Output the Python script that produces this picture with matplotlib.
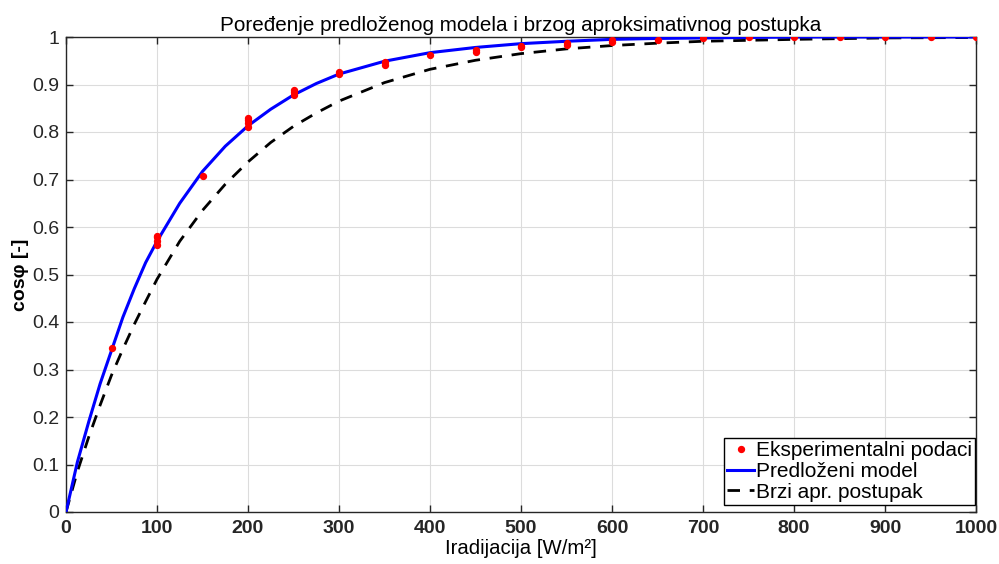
import matplotlib
matplotlib.use("Agg")
import matplotlib.pyplot as plt

plt.rcParams['font.family'] = ['Liberation Sans', 'DejaVu Sans']

# Experimental points
exp_x = [50, 100, 100, 100, 100, 150, 200, 200, 200, 200, 250, 250, 250,
         300, 300, 350, 350, 400, 450, 450, 500, 500, 550, 550, 600, 600,
         650, 700, 750, 800, 850, 900, 950, 1000]
exp_y = [0.345, 0.562, 0.570, 0.578, 0.582, 0.707, 0.810, 0.818, 0.825, 0.829,
         0.877, 0.884, 0.889, 0.922, 0.927, 0.942, 0.948, 0.963, 0.969, 0.973,
         0.978, 0.982, 0.983, 0.987, 0.989, 0.993, 0.993, 0.997, 0.999, 1.0,
         1.0, 1.0, 1.0, 1.0]

# Proposed model curve
model_x = [0, 12.5, 25, 37.5, 50, 62.5, 75, 87.5, 100, 125, 150, 175, 200, 225,
           250, 275, 300, 350, 400, 450, 500, 550, 600, 650, 700, 750, 800,
           900, 1000]
model_y = [0.0, 0.105, 0.19, 0.27, 0.34, 0.41, 0.47, 0.525, 0.57, 0.65, 0.717,
           0.77, 0.813, 0.848, 0.878, 0.902, 0.922, 0.949, 0.967, 0.978,
           0.986, 0.991, 0.995, 0.997, 0.998, 0.999, 1.0, 1.0, 1.0]

# Fast approximate procedure
approx_x = [0, 12.5, 25, 37.5, 50, 62.5, 75, 87.5, 100, 125, 150, 175, 200,
            225, 250, 275, 300, 350, 400, 450, 500, 550, 600, 650, 700, 800,
            900, 1000]
approx_y = [0.0, 0.085, 0.158, 0.225, 0.288, 0.343, 0.395, 0.443, 0.49, 0.57,
            0.635, 0.69, 0.737, 0.778, 0.812, 0.84, 0.865, 0.904, 0.932,
            0.951, 0.965, 0.975, 0.982, 0.987, 0.991, 0.995, 0.998, 0.999]

x_ticks = list(range(0, 1001, 100))
y_ticks = [0, 0.1, 0.2, 0.3, 0.4, 0.5, 0.6, 0.7, 0.8, 0.9, 1]
y_tick_labels = ['0', '0.1', '0.2', '0.3', '0.4', '0.5', '0.6', '0.7', '0.8', '0.9', '1']

fig = plt.figure(figsize=(9.99, 5.64), dpi=100)
ax = fig.add_axes([66/999, 52/564, (976-66)/999, (512-37)/564])

ax.plot(exp_x, exp_y, '.', color='red', markersize=8.5, label='Eksperimentalni podaci', zorder=4)
ax.plot(model_x, model_y, '-', color='blue', lw=2.2, label='Predloženi model', zorder=3)
ax.plot(approx_x, approx_y, '--', color='black', lw=2.0, dashes=(4.5, 3.5),
        label='Brzi apr. postupak', zorder=2)

ax.set_xlim(0, 1000)
ax.set_ylim(0, 1)
ax.set_xticks(x_ticks)
ax.set_yticks(y_ticks)
ax.set_yticklabels(y_tick_labels)
ax.grid(True, color='#dcdcdc', lw=0.8)
ax.set_axisbelow(True)
ax.tick_params(direction='in', top=True, right=True, length=5, width=1,
               colors='#262626', labelsize=14)
ax.tick_params(axis='x', pad=6)
ax.tick_params(axis='y', pad=5)
for lab in ax.get_xticklabels():
    lab.set_fontweight('bold')
for s in ax.spines.values():
    s.set_color('#262626')
    s.set_linewidth(1.0)

ax.set_title('Poređenje predloženog modela i brzog aproksimativnog postupka',
             fontsize=14.9, pad=4)
ax.set_xlabel('Iradijacija [W/m²]', fontsize=14.7, labelpad=1)
ax.set_ylabel('cosφ [-]', fontsize=14, fontweight='bold', labelpad=2)

leg = ax.legend(loc='lower right', bbox_to_anchor=(0.999, 0.015),
                fontsize=15, handlelength=1.3,
                handletextpad=0.08, borderpad=0.15, labelspacing=0.08,
                borderaxespad=0.0, fancybox=False, framealpha=1,
                edgecolor='black')
leg.get_frame().set_linewidth(1.0)

fig.savefig('out.png', dpi=100)
